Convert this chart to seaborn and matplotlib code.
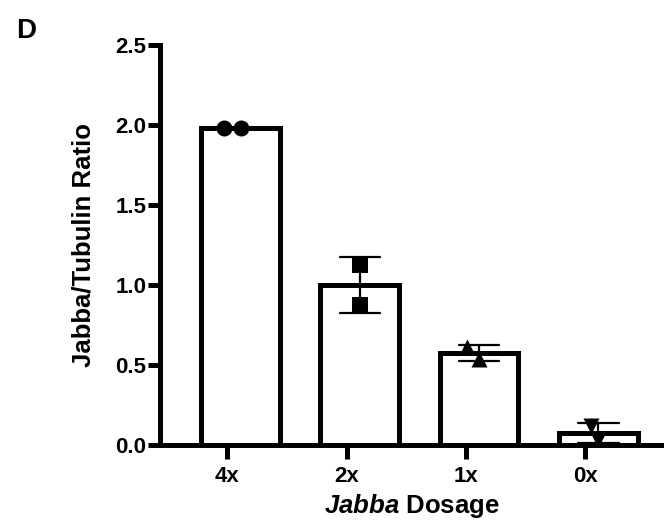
import numpy as np
import pandas as pd
import matplotlib
matplotlib.use("Agg")
import matplotlib.pyplot as plt
import seaborn as sns

# ---- data ----
categories = ["4x", "2x", "1x", "0x"]
rep1 = [1.98, 1.125, 0.54, 0.03]
rep2 = [1.98, 0.875, 0.61, 0.12]
markers = ["o", "s", "^", "v"]
yticks = [0.0, 0.5, 1.0, 1.5, 2.0, 2.5]

rows = []
for c, a, b in zip(categories, rep1, rep2):
    rows.append({"Dosage": c, "Ratio": a})
    rows.append({"Dosage": c, "Ratio": b})
df = pd.DataFrame(rows)

sns.set_style("ticks")
plt.rcParams["font.family"] = ["Liberation Sans", "DejaVu Sans"]
plt.rcParams["font.weight"] = "bold"
plt.rcParams["text.color"] = "black"
plt.rcParams["axes.labelcolor"] = "black"
plt.rcParams["xtick.color"] = "black"
plt.rcParams["ytick.color"] = "black"
plt.rcParams["mathtext.fontset"] = "custom"
plt.rcParams["mathtext.bf"] = "Liberation Sans:bold"
plt.rcParams["mathtext.it"] = "Liberation Sans:italic:bold"
plt.rcParams["mathtext.rm"] = "Liberation Sans:bold"

fig = plt.figure(figsize=(6.64, 5.28), dpi=100)
ax = fig.add_axes([0.241, 0.157, 0.759, 0.758])

lw = 3.6
sns.barplot(data=df, x="Dosage", y="Ratio", order=categories, errorbar="sd",
            color="white", edgecolor="black", linewidth=lw, width=0.66,
            capsize=0.34, err_kws={"color": "black", "linewidth": 1.6},
            ax=ax, zorder=2)

for c, m in zip(categories, markers):
    sub = df[df["Dosage"] == c]
    sns.swarmplot(data=sub, x="Dosage", y="Ratio", order=categories,
                  marker=m, color="black", size=11.5, ax=ax, zorder=4)

ax.set_ylim(0, 2.5)
ax.set_xlim(-0.675, 3.55)
ax.set_yticks(yticks)
ax.set_yticklabels([f"{v:.1f}" for v in yticks])
ax.set_xticks([i - 0.11 for i in range(len(categories))])
ax.set_xticklabels(categories)

for s in ["top", "right"]:
    ax.spines[s].set_visible(False)
for s in ["left", "bottom"]:
    ax.spines[s].set_linewidth(lw)
    ax.spines[s].set_color("black")

ax.tick_params(axis="y", length=9, width=lw, labelsize=16, pad=1, colors="black")
ax.tick_params(axis="x", length=10, width=lw, labelsize=16, pad=5, colors="black")
for t in ax.get_xticklabels() + ax.get_yticklabels():
    t.set_fontweight("bold")

ax.set_ylabel("Jabba/Tubulin Ratio", fontsize=18.5, fontweight="bold", labelpad=14,
              color="black")
ax.set_xlabel(r"$\it{Jabba}$ Dosage", fontsize=18.5, fontweight="bold", labelpad=4,
              color="black")

fig.text(0.024, 0.965, "D", fontsize=20, fontweight="bold", va="top", ha="left",
         color="black")

fig.savefig("out.png", dpi=100)
